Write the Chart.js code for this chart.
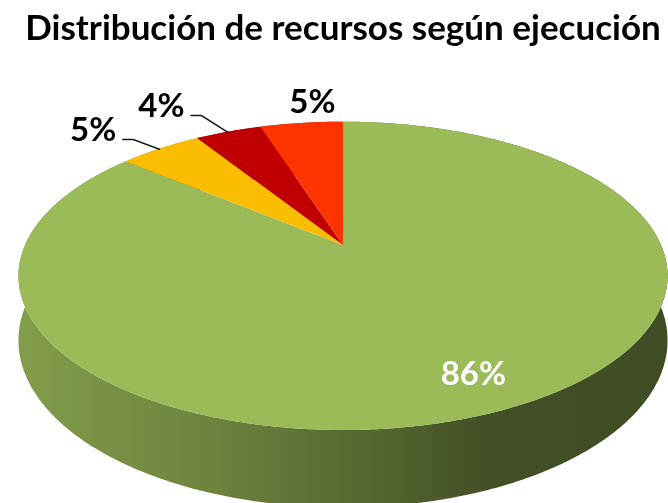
<!DOCTYPE html>
<html>
<head>
<meta charset="utf-8">
<script src="https://cdn.jsdelivr.net/npm/chart.js@4.4.0/dist/chart.umd.min.js"></script>
<style>
    html, body { margin: 0; padding: 0; background: #ffffff; }
    #wrap { width: 668px; height: 503px; }
</style>
</head>
<body>
<div id="wrap"><canvas id="recursosChart"></canvas></div>
<script>
// Datos del gráfico
const categorias = ["Ejecutado", "Comprometido", "Reservado", "Disponible"];
const porcentajes = [86, 5, 4, 5];
const colores = ["#9bbb59", "#fabd00", "#c00000", "#ff3300"];

// desplazamiento de cada etiqueta respecto al borde de su porción (null = etiqueta interior)
const desplazamientoEtiquetas = [null, [-67, -18], [-67, -25], [11, -21]];
const conGuia = [false, true, true, false];

function shade(hex, f) {
    const n = parseInt(hex.slice(1), 16);
    const r = Math.round(((n >> 16) & 255) * f);
    const g = Math.round(((n >> 8) & 255) * f);
    const b = Math.round((n & 255) * f);
    return `rgb(${r},${g},${b})`;
}

// Pie en perspectiva: usa los ángulos y el centro que calcula Chart.js
const pie3d = {
    id: "pie3d",
    beforeDatasetsDraw(chart, args, opts) {
        const ctx = chart.ctx;
        const arcs = chart.getDatasetMeta(0).data;
        const cx = arcs[0].x, cy = arcs[0].y;
        const R = opts.radiusX, H = opts.radiusY, k = opts.tilt, D = opts.depth;

        const proj = (a, f, drop) => {
            const c = Math.cos(a) * f, s = Math.sin(a) * f;
            const w = 1 / (1 - k * s);
            return [cx + R * c * w, cy + H * s * w + drop * w];
        };
        const samples = (a0, a1) => {
            const n = Math.max(4, Math.ceil((a1 - a0) / 0.01));
            const out = [];
            for (let i = 0; i <= n; i++) out.push(a0 + (a1 - a0) * i / n);
            return out;
        };

        // lateral del cilindro
        arcs.forEach((arc, i) => {
            const angs = samples(arc.startAngle, arc.endAngle);
            const grad = ctx.createLinearGradient(cx - R * 1.03, 0, cx + R * 1.03, 0);
            const base = colores[i];
            grad.addColorStop(0, shade(base, 0.84));
            grad.addColorStop(0.3, shade(base, 0.7));
            grad.addColorStop(0.55, shade(base, 0.54));
            grad.addColorStop(0.72, shade(base, 0.43));
            grad.addColorStop(1, shade(base, 0.41));
            ctx.beginPath();
            angs.forEach((a, j) => {
                const p = proj(a, 1, 0);
                j === 0 ? ctx.moveTo(p[0], p[1]) : ctx.lineTo(p[0], p[1]);
            });
            for (let j = angs.length - 1; j >= 0; j--) {
                const p = proj(angs[j], 1, D);
                ctx.lineTo(p[0], p[1]);
            }
            ctx.closePath();
            ctx.fillStyle = grad;
            ctx.fill();
        });

        // cara superior
        arcs.forEach((arc, i) => {
            const angs = samples(arc.startAngle, arc.endAngle);
            ctx.beginPath();
            ctx.moveTo(cx, cy);
            angs.forEach(a => {
                const p = proj(a, 1, 0);
                ctx.lineTo(p[0], p[1]);
            });
            ctx.closePath();
            ctx.fillStyle = colores[i];
            ctx.fill();
        });

        // etiquetas de porcentaje
        const total = porcentajes.reduce((s, v) => s + v, 0);
        ctx.save();
        ctx.font = "bold 33px Lato";
        ctx.textAlign = "center";
        ctx.textBaseline = "middle";
        arcs.forEach((arc, i) => {
            const mid = (arc.startAngle + arc.endAngle) / 2;
            const txt = Math.round(porcentajes[i] / total * 100) + "%";
            const off = desplazamientoEtiquetas[i];
            if (!off) {
                const p = proj(mid, 0.82, 0);
                ctx.fillStyle = "#ffffff";
                ctx.fillText(txt, p[0], p[1]);
                return;
            }
            const edge = proj(mid, 1, 0);
            const lx = edge[0] + off[0], ly = edge[1] + off[1];
            ctx.fillStyle = "#000000";
            ctx.fillText(txt, lx, ly);
            if (conGuia[i]) {
                const x0 = lx + ctx.measureText(txt).width / 2 + 6;
                const y0 = ly + 9;
                ctx.beginPath();
                ctx.moveTo(x0, y0);
                ctx.lineTo(x0 + 11, y0);
                ctx.lineTo(edge[0], edge[1] + 1);
                ctx.strokeStyle = "#1a1a1a";
                ctx.lineWidth = 1.5;
                ctx.stroke();
            }
        });
        ctx.restore();
        return false;
    }
};

const ctx = document.getElementById("recursosChart").getContext("2d");

new Chart(ctx, {
    type: "pie",
    data: {
        labels: categorias,
        datasets: [{
            data: porcentajes,
            backgroundColor: colores,
            borderWidth: 0
        }]
    },
    plugins: [pie3d],
    options: {
        responsive: true,
        maintainAspectRatio: false,
        animation: false,
        events: [],
        layout: { padding: { left: 18, right: 0, top: 0, bottom: 73 } },
        plugins: {
            legend: { display: false },
            tooltip: { enabled: false },
            title: {
                display: true,
                text: "Distribución de recursos según ejecución",
                color: "#000000",
                font: { family: "Lato", size: 35, weight: "bold" },
                padding: { top: 8, bottom: 10 }
            },
            pie3d: { radiusX: 318, radiusY: 148, tilt: 0.2, depth: 62 }
        }
    }
});
</script>
</body>
</html>
